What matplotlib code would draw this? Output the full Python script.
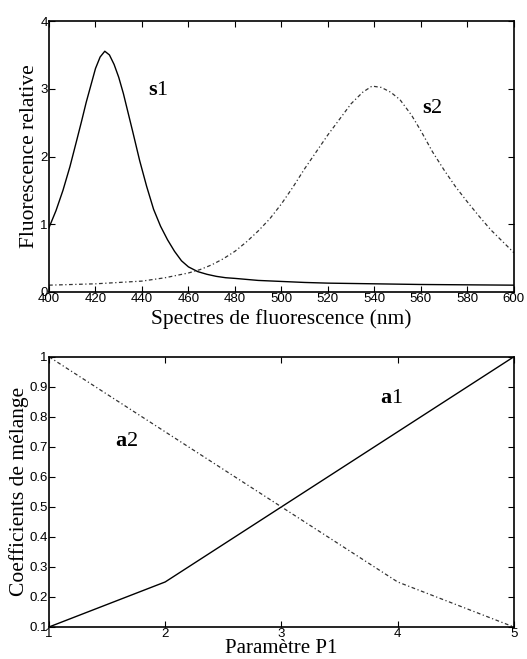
import numpy as np
import matplotlib.pyplot as plt

# spectre s1 (nm, fluorescence relative)
s1_nm = [400, 403, 406, 409, 412, 414, 416, 418, 420, 422, 424, 426, 428, 430,
         432, 434, 436, 439, 442, 445, 448, 451, 454, 457, 460, 464, 468, 472,
         476, 480, 490, 500, 510, 520, 530, 540, 560, 580, 600]
s1_val = [0.95, 1.2, 1.5, 1.85, 2.25, 2.52, 2.8, 3.05, 3.3, 3.47, 3.555, 3.5,
          3.36, 3.17, 2.93, 2.65, 2.37, 1.94, 1.56, 1.22, 0.97, 0.77, 0.6,
          0.46, 0.37, 0.30, 0.26, 0.23, 0.21, 0.20, 0.17, 0.155, 0.14, 0.13,
          0.125, 0.12, 0.11, 0.105, 0.10]

# spectre s2
s2_nm = [400, 420, 440, 450, 460, 465, 470, 475, 480, 485, 490, 495, 500, 505,
         510, 515, 520, 525, 530, 535, 539, 543, 547, 551, 556, 560, 565, 570,
         575, 580, 585, 590, 595, 600]
s2_val = [0.10, 0.12, 0.16, 0.21, 0.28, 0.33, 0.40, 0.49, 0.60, 0.74, 0.90,
          1.08, 1.30, 1.55, 1.82, 2.07, 2.32, 2.55, 2.78, 2.95, 3.04, 3.02,
          2.95, 2.84, 2.61, 2.38, 2.07, 1.80, 1.55, 1.33, 1.12, 0.92, 0.75,
          0.58]

# coefficients de melange
p1 = [1, 2, 3, 4, 5]
a1 = [0.1, 0.25, 0.5, 0.75, 1.0]
a2 = [1.0, 0.75, 0.5, 0.25, 0.1]

serif = 'Liberation Serif'
sans = 'Liberation Sans'

plt.rcParams['mathtext.fontset'] = 'custom'
plt.rcParams['mathtext.rm'] = serif
plt.rcParams['mathtext.bf'] = serif + ':bold'

fig = plt.figure(figsize=(5.27, 6.59), dpi=100)
ax1 = fig.add_axes([0.093, 0.557, 0.882, 0.411])
ax2 = fig.add_axes([0.093, 0.0486, 0.882, 0.41])

dashdot = (0, (3, 2, 1, 2))

ax1.plot(s1_nm, s1_val, color='black', lw=1.0)
ax1.plot(s2_nm, s2_val, color='#333333', lw=0.9, linestyle=dashdot)
ax1.set_xlim(400, 600)
ax1.set_ylim(0, 4)
ax1.set_xticks(np.arange(400, 601, 20))
ax1.set_yticks([0, 1, 2, 3, 4])
ax1.set_xlabel('Spectres de fluorescence (nm)', family=serif, fontsize=15.5, labelpad=3)
ax1.set_ylabel('Fluorescence relative', family=serif, fontsize=15.5, labelpad=1)
ax1.text(447, 3.0, r'$\mathbf{s}\mathrm{1}$', fontsize=16, va='center', ha='center')
ax1.text(565, 2.73, r'$\mathbf{s}\mathrm{2}$', fontsize=16, va='center', ha='center')

ax2.plot(p1, a1, color='black', lw=1.0)
ax2.plot(p1, a2, color='#333333', lw=0.9, linestyle=dashdot)
ax2.set_xlim(1, 5)
ax2.set_ylim(0.1, 1)
ax2.set_xticks(p1)
ax2.set_yticks(np.arange(0.1, 1.01, 0.1))
ax2.set_yticklabels(['0.1', '0.2', '0.3', '0.4', '0.5', '0.6', '0.7', '0.8', '0.9', '1'])
ax2.set_xlabel('Paramètre P1', family=serif, fontsize=15, labelpad=-1)
ax2.set_ylabel('Coefficients de mélange', family=serif, fontsize=15.5, labelpad=0)
ax2.text(3.95, 0.867, r'$\mathbf{a}\mathrm{1}$', fontsize=16, va='center', ha='center')
ax2.text(1.67, 0.723, r'$\mathbf{a}\mathrm{2}$', fontsize=16, va='center', ha='center')

for ax in (ax1, ax2):
    ax.tick_params(direction='in', top=True, right=True, length=4, width=0.8,
                   labelsize=9.5, pad=1)
    for lab in ax.get_xticklabels() + ax.get_yticklabels():
        lab.set_family(sans)
    for sp in ax.spines.values():
        sp.set_linewidth(1.2)

fig.savefig('out.png', dpi=100)
